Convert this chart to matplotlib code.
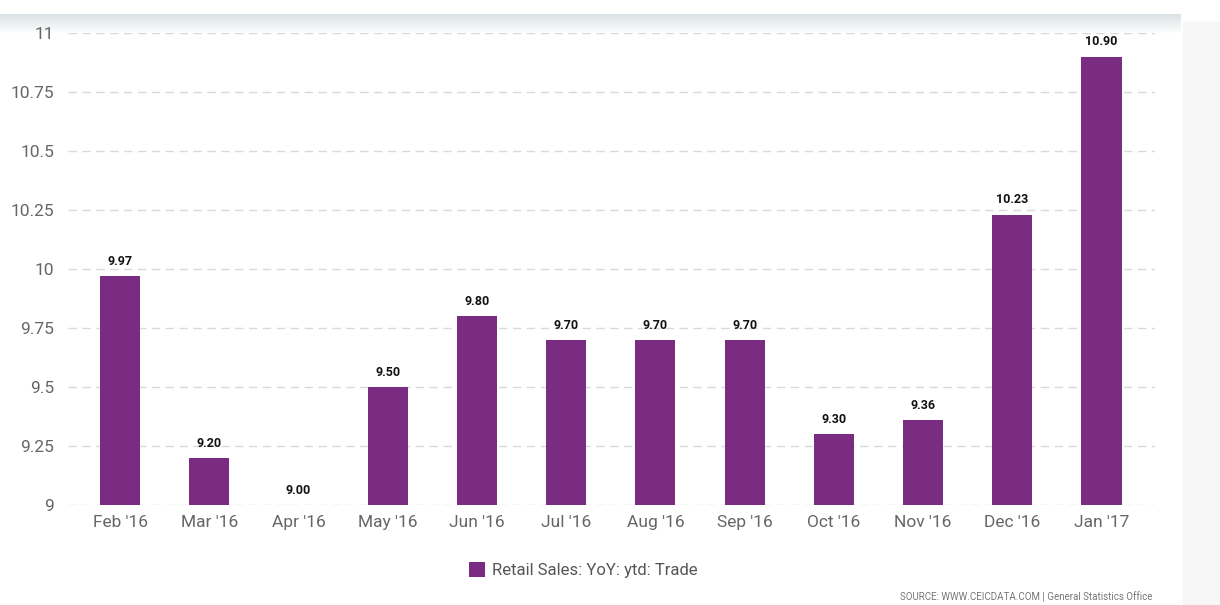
import numpy as np
import matplotlib.pyplot as plt
from matplotlib.patches import Rectangle
from matplotlib.colors import LinearSegmentedColormap

months = ["Feb '16", "Mar '16", "Apr '16", "May '16", "Jun '16", "Jul '16",
          "Aug '16", "Sep '16", "Oct '16", "Nov '16", "Dec '16", "Jan '17"]
values = [9.97, 9.20, 9.00, 9.50, 9.80, 9.70, 9.70, 9.70, 9.30, 9.36, 10.23, 10.90]
yticks = [9, 9.25, 9.5, 9.75, 10, 10.25, 10.5, 10.75, 11]
ytick_labels = ["9", "9.25", "9.5", "9.75", "10", "10.25", "10.5", "10.75", "11"]

plt.rcParams['font.family'] = ['Roboto', 'DejaVu Sans']
bar_color = "#7a2b82"

fig = plt.figure(figsize=(12.2, 6.05), dpi=100)

# top shading band (gray at top fading to white) and right-side panel
band = fig.add_axes([0, 1 - 34/605, 0.968, 20/605])
grad = np.linspace(0, 1, 50).reshape(-1, 1)
band.imshow(grad, aspect='auto', extent=[0, 1, 0, 1],
            cmap=LinearSegmentedColormap.from_list("g", ["#dbe2e5", "#ffffff"]))
band.axis('off')
fig.patches.append(Rectangle((1183/1220, 0), 1 - 1183/1220, 1 - 22/605,
                             transform=fig.transFigure, color="#f6f6f6", zorder=0))

ax = fig.add_axes([68/1220, 1 - 505/605, (1155 - 68)/1220, (505 - 33)/605])
ax.patch.set_alpha(0)
x = np.arange(len(months))
bars = ax.bar(x, np.array(values) - 9, bottom=9, width=0.45, color=bar_color, zorder=3)
for xi, v in zip(x, values):
    ax.text(xi, v + 0.035, f"{v:.2f}", ha='center', va='bottom', fontsize=9,
            fontweight='bold', color="#111111")

ax.set_ylim(9, 11)
ax.set_xlim(-0.584, 11.6)
ax.set_yticks(yticks)
ax.set_yticklabels(ytick_labels)
ax.set_xticks(x)
ax.set_xticklabels(months)
ax.tick_params(axis='both', length=0, labelsize=12.5, colors="#666666")
ax.tick_params(axis='y', pad=10)
ax.tick_params(axis='x', pad=7)
ax.grid(axis='y', color="#d9d9d9", linestyle=(0, (6, 4)), linewidth=1, zorder=0)
for s in ax.spines.values():
    s.set_visible(False)

fig.legend(handles=[bars], labels=["Retail Sales: YoY: ytd: Trade"], loc='center',
           bbox_to_anchor=(583/1220, 1 - 570/605), frameon=False, fontsize=12,
           handlelength=1.0, handleheight=1.0, handletextpad=0.4, labelcolor="#555555")

fig.text(1152/1220, 1 - 597/605, "SOURCE: WWW.CEICDATA.COM | General Statistics Office",
         ha='right', va='center', fontsize=7, color="#777777")

fig.savefig("out.png", dpi=100)
